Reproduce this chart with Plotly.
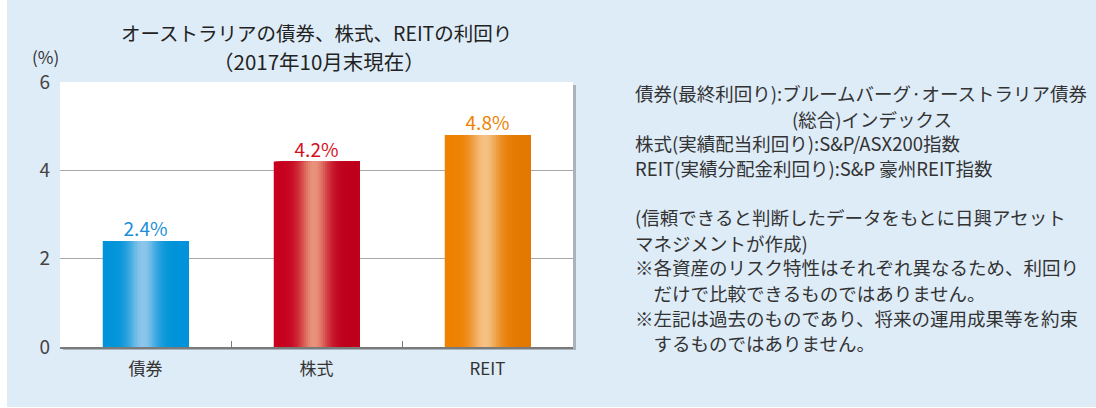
import math
import plotly.graph_objects as go

# ---- data ----
categories = ["債券", "株式", "REIT"]
values = [2.4, 4.2, 4.8]
value_labels = ["2.4%", "4.2%", "4.8%"]
y_ticks = [0, 2, 4, 6]

title_line1 = "オーストラリアの債券、株式、REITの利回り"
title_line2 = "（2017年10月末現在）"
y_unit = "(%)"
notes = [
    "債券(最終利回り):ブルームバーグ·オーストラリア債券",
    "(総合)インデックス",
    "株式(実績配当利回り):S&P/ASX200指数",
    "REIT(実績分配金利回り):S&P 豪州REIT指数",
    "(信頼できると判断したデータをもとに日興アセット",
    "マネジメントが作成)",
    "※各資産のリスク特性はそれぞれ異なるため、利回り",
    "　だけで比較できるものではありません。",
    "※左記は過去のものであり、将来の運用成果等を約束",
    "　するものではありません。",
]

# ---- styling ----
FONT = "Noto Sans CJK JP"
W, H = 1096, 408
L, R, T, B = 60, 573, 82, 347  # plot area in px
label_colors = ["#1a8fd8", "#d4101e", "#ef8200"]
dark_left = [(0, 147, 217), (200, 0, 30), (239, 130, 0)]
dark_right = [(0, 147, 217), (190, 0, 28), (226, 120, 0)]
light = [(140, 198, 236), (232, 148, 122), (245, 193, 132)]


def px_x(p):
    return (p - L) / (R - L)


def px_y(p):
    return (B - p) / (B - T)


def mix(a, b, f):
    return tuple(round(a[i] + (b[i] - a[i]) * f) for i in range(3))


N = 40
bw = 0.5
fig = go.Figure()
for i in range(N):
    t = (i + 0.5) / N
    f = math.exp(-((t - 0.47) / 0.17) ** 2)
    cols = []
    for k in range(len(categories)):
        base = mix(dark_left[k], dark_right[k], t)
        c = mix(base, light[k], f)
        cols.append("rgb(%d,%d,%d)" % c)
    off = -bw / 2 + i * bw / N
    fig.add_trace(go.Bar(
        x=categories, y=values,
        width=bw - i * bw / N, offset=off,
        marker=dict(color=cols, line=dict(width=0)),
        showlegend=False, hoverinfo="skip",
    ))

fig.add_trace(go.Scatter(
    x=categories, y=values, mode="text", text=value_labels,
    textposition="top center",
    textfont=dict(family=FONT, size=19, color=label_colors),
    showlegend=False, hoverinfo="skip", cliponaxis=False,
))

shapes = [
    # blue panel
    dict(type="rect", xref="paper", yref="paper", layer="below",
         x0=px_x(7), x1=px_x(W + 5), y0=px_y(407), y1=px_y(-5),
         fillcolor="#deecf8", line=dict(width=0)),
    # shadow
    dict(type="rect", xref="paper", yref="paper", layer="below",
         x0=px_x(L + 3), x1=px_x(R + 3), y0=px_y(B + 3), y1=px_y(T + 3),
         fillcolor="#a9b3bd", line=dict(width=0)),
    # white plot bg
    dict(type="rect", xref="paper", yref="paper", layer="below",
         x0=0, x1=1, y0=0, y1=1, fillcolor="white", line=dict(width=0)),
]

annotations = [
    dict(text=title_line1, x=px_x(316), y=px_y(32), xref="paper", yref="paper",
         showarrow=False, xanchor="center", yanchor="middle",
         font=dict(family=FONT, size=19.5, color="#222")),
    dict(text=title_line2, x=px_x(319), y=px_y(61), xref="paper", yref="paper",
         showarrow=False, xanchor="center", yanchor="middle",
         font=dict(family=FONT, size=20.5, color="#222")),
    dict(text=y_unit, x=px_x(45), y=px_y(56), xref="paper", yref="paper",
         showarrow=False, xanchor="center", yanchor="middle",
         font=dict(family=FONT, size=17, color="#333")),
]

note_y = [93, 119, 143, 168, 217, 243, 267, 293, 318, 343]
note_x = [633, 790, 633, 633, 633, 633, 633, 633, 633, 633]
for txt, nx, ny in zip(notes, note_x, note_y):
    annotations.append(dict(
        text=txt, x=px_x(nx), y=px_y(ny), xref="paper", yref="paper",
        showarrow=False, xanchor="left", yanchor="middle",
        font=dict(family=FONT, size=18.5, color="#333")))

fig.update_layout(
    width=W, height=H,
    margin=dict(l=L, r=W - R, t=T, b=H - B, pad=0),
    paper_bgcolor="white", plot_bgcolor="rgba(0,0,0,0)",
    barmode="overlay", bargap=0.5,
    shapes=shapes, annotations=annotations,
    font=dict(family=FONT, color="#333"),
    xaxis=dict(
        type="category", showgrid=False, showline=True, linecolor="#7a7a7a",
        linewidth=2, ticks="inside", tickson="boundaries", ticklen=6,
        tickcolor="#7a7a7a", tickwidth=1, ticklabelstandoff=6,
        tickfont=dict(family=FONT, size=17, color="#333"), fixedrange=True,
    ),
    yaxis=dict(
        range=[0, 6], tickvals=y_ticks, showgrid=True, gridcolor="#a8a8a8",
        gridwidth=1, zeroline=False, showline=False, ticks="",
        ticklabelstandoff=9,
        tickfont=dict(family=FONT, size=19, color="#444"), fixedrange=True,
    ),
)

fig.write_html("out.html", config={"displayModeBar": False},
               post_script="document.body.style.margin='0';")
